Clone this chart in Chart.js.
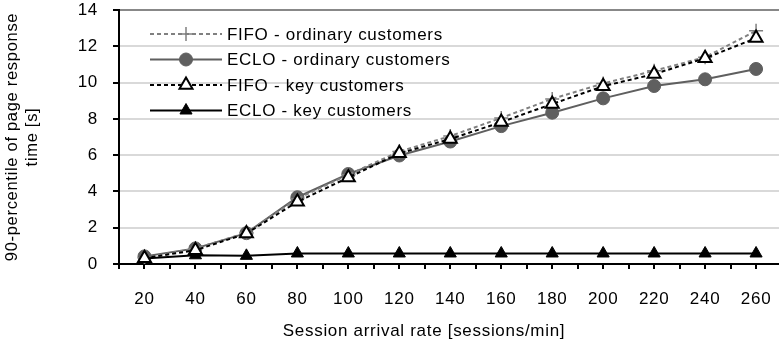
<!DOCTYPE html>
<html>
<head>
<meta charset="utf-8">
<script src="https://cdn.jsdelivr.net/npm/chart.js@4.4.1/dist/chart.umd.min.js"></script>
<style>
  html, body { margin: 0; padding: 0; background: #fff; overflow: hidden; }
  #wrap { width: 779px; height: 347px; position: relative; }
</style>
</head>
<body>
<div id="wrap"><canvas id="chart"></canvas></div>
<script>
// session arrival rates (sessions/min)
const rates = [20, 40, 60, 80, 100, 120, 140, 160, 180, 200, 220, 240, 260];

// 90-percentile of page response time [s]
const fifoOrdinary = [0.35, 0.85, 1.72, 3.6, 4.92, 6.2, 7.05, 8.05, 9.1, 9.95, 10.65, 11.4, 12.85];
const ecloOrdinary = [0.42, 0.86, 1.7, 3.68, 4.96, 5.98, 6.75, 7.6, 8.34, 9.13, 9.81, 10.18, 10.75];
const fifoKey = [0.32, 0.76, 1.68, 3.43, 4.77, 6.1, 6.89, 7.82, 8.82, 9.8, 10.47, 11.34, 12.45];
const ecloKey = [0.3, 0.48, 0.45, 0.58, 0.58, 0.58, 0.58, 0.58, 0.58, 0.58, 0.58, 0.58, 0.58];

const seriesLabels = [
  'FIFO - ordinary customers',
  'ECLO - ordinary customers',
  'FIFO - key customers',
  'ECLO - key customers'
];
const xTitle = 'Session arrival rate [sessions/min]';
const yTitle = ['90-percentile of page response', 'time [s]'];

const FONT = "'Liberation Sans', Arial, sans-serif";
const SPACING = '0.7px'; // the original text is a bit wider than Liberation Sans

function toPoints(values) {
  return values.map((v, i) => ({ x: rates[i], y: v }));
}

// canvas state is reset on resize, so set the spacing again before layout and draw
const textSpacing = {
  id: 'textSpacing',
  beforeLayout(chart) { chart.ctx.letterSpacing = SPACING; },
  beforeDraw(chart) { chart.ctx.letterSpacing = SPACING; }
};

// x axis title sits left of the plot centre in the original
const xAxisTitle = {
  id: 'xAxisTitle',
  afterDraw(chart) {
    const ctx = chart.ctx;
    ctx.save();
    ctx.font = '17px ' + FONT;
    ctx.letterSpacing = SPACING;
    ctx.fillStyle = '#000';
    ctx.textAlign = 'center';
    ctx.textBaseline = 'middle';
    ctx.fillText(xTitle, 424, 331);
    ctx.restore();
  }
};

// legend drawn inside the plot: line sample with marker, then the label
const insideLegend = {
  id: 'insideLegend',
  afterDraw(chart) {
    const ctx = chart.ctx;
    const x0 = 150, x1 = 222, textX = 227;
    const rowY = [34, 59.5, 85, 110.5];
    chart.data.datasets.forEach((ds, i) => {
      const y = rowY[i];
      ctx.save();
      ctx.strokeStyle = ds.borderColor;
      ctx.lineWidth = ds.borderWidth;
      ctx.setLineDash(ds.borderDash || []);
      ctx.beginPath();
      ctx.moveTo(x0, y);
      ctx.lineTo(x1, y);
      ctx.stroke();
      ctx.setLineDash([]);
      ctx.fillStyle = ds.pointBackgroundColor;
      ctx.strokeStyle = ds.pointBorderColor;
      ctx.lineWidth = ds.pointBorderWidth;
      Chart.helpers.drawPoint(ctx, {
        pointStyle: ds.pointStyle,
        radius: ds.pointRadius,
        borderWidth: ds.pointBorderWidth
      }, (x0 + x1) / 2, y);
      ctx.fillStyle = '#000';
      ctx.font = '17px ' + FONT;
      ctx.letterSpacing = SPACING;
      ctx.textAlign = 'left';
      ctx.textBaseline = 'middle';
      ctx.fillText(ds.label, textX, y + 1);
      ctx.restore();
    });
  }
};

new Chart(document.getElementById('chart'), {
  type: 'line',
  data: {
    datasets: [
      {
        label: seriesLabels[0],
        data: toPoints(fifoOrdinary),
        borderColor: '#808080',
        borderWidth: 2,
        borderDash: [4, 3],
        pointStyle: 'cross',
        pointRadius: 7,
        pointBorderWidth: 1.5,
        pointBorderColor: '#808080',
        pointBackgroundColor: '#808080',
        order: 2
      },
      {
        label: seriesLabels[1],
        data: toPoints(ecloOrdinary),
        borderColor: '#5f5f5f',
        borderWidth: 2,
        pointStyle: 'circle',
        pointRadius: 6.5,
        pointBorderWidth: 1,
        pointBorderColor: '#5f5f5f',
        pointBackgroundColor: '#5f5f5f',
        order: 3
      },
      {
        label: seriesLabels[2],
        data: toPoints(fifoKey),
        borderColor: '#000',
        borderWidth: 2,
        borderDash: [4, 3],
        pointStyle: 'triangle',
        pointRadius: 7.5,
        pointBorderWidth: 2,
        pointBorderColor: '#000',
        pointBackgroundColor: '#fff',
        order: 0
      },
      {
        label: seriesLabels[3],
        data: toPoints(ecloKey),
        borderColor: '#000',
        borderWidth: 2,
        pointStyle: 'triangle',
        pointRadius: 7,
        pointBorderWidth: 1,
        pointBorderColor: '#000',
        pointBackgroundColor: '#000',
        order: 1
      }
    ]
  },
  options: {
    responsive: true,
    maintainAspectRatio: false,
    animation: false,
    layout: { autoPadding: false, padding: { top: 10, right: 0, left: 0, bottom: 0 } },
    plugins: {
      legend: { display: false },
      tooltip: { enabled: false }
    },
    scales: {
      x: {
        type: 'linear',
        min: 10,
        max: 269,
        afterFit(scale) {
          scale.height = 83;
          scale.paddingLeft = 0;
          scale.paddingRight = 0;
        },
        ticks: {
          stepSize: 10,
          includeBounds: false,
          autoSkip: false,
          maxRotation: 0,
          padding: 20,
          color: '#000',
          font: { family: FONT, size: 17 },
          callback: v => (v % 20 === 0 ? String(v) : '')
        },
        grid: {
          drawOnChartArea: false,
          drawTicks: true,
          tickLength: 5,
          tickColor: '#000',
          lineWidth: 2
        },
        border: { color: '#000', width: 2 },
        title: { display: false }
      },
      y: {
        min: 0,
        max: 14,
        afterFit(scale) {
          scale.width = 119;
          scale.paddingTop = 0;
          scale.paddingBottom = 0;
        },
        ticks: {
          stepSize: 2,
          padding: 15,
          color: '#000',
          font: { family: FONT, size: 17 }
        },
        grid: {
          color: ctx => (ctx.tick && ctx.tick.value === 14 ? '#888' : '#d9d9d9'),
          lineWidth: 2,
          tickLength: 6,
          tickColor: '#000'
        },
        border: { color: '#000', width: 2 },
        title: {
          display: true,
          text: yTitle,
          color: '#000',
          font: { family: FONT, size: 16.5, lineHeight: 1.22 },
          padding: { top: 2, bottom: 0 }
        }
      }
    }
  },
  plugins: [textSpacing, xAxisTitle, insideLegend]
});
</script>
</body>
</html>
